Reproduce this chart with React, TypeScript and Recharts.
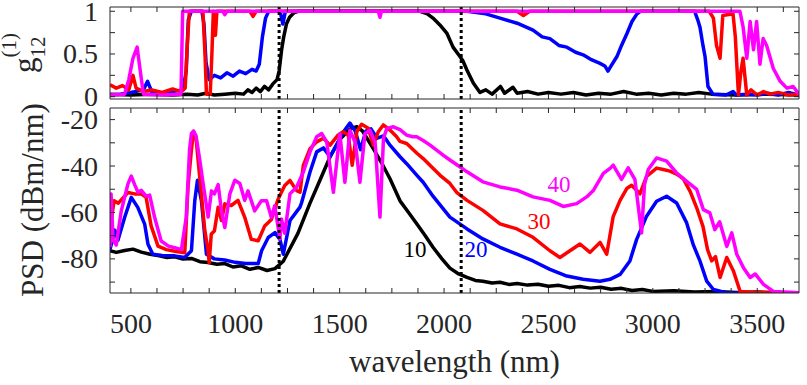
import React from 'react';
import { LineChart, Line, XAxis, YAxis, ReferenceLine, ReferenceDot } from 'recharts';

// wavelength (nm), first-order coherence |g12|
const coherence10: [number, number][] = [
  [400, 0.03], [500, 0.02], [600, 0.03], [700, 0.02], [770, 0.03], [820, 0.02], [860, 0.04], [900, 0.02],
  [950, 0.03], [1000, 0.04], [1040, 0.03], [1060, 0.08], [1080, 0.05], [1100, 0.1], [1120, 0.06],
  [1140, 0.12], [1160, 0.08], [1180, 0.15], [1200, 0.2], [1210, 0.3], [1222, 0.55], [1232, 0.7],
  [1245, 0.85], [1260, 0.93], [1280, 0.98], [1300, 1.0], [1885, 1.0], [1920, 0.97], [1947, 0.92],
  [1980, 0.84], [2014, 0.74], [2043, 0.58], [2076, 0.47], [2090, 0.42], [2110, 0.31], [2140, 0.16],
  [2172, 0.05], [2200, 0.08], [2230, 0.03], [2270, 0.12], [2290, 0.04], [2330, 0.11], [2350, 0.04],
  [2400, 0.06], [2450, 0.03], [2500, 0.05], [2560, 0.03], [2620, 0.05], [2680, 0.02], [2740, 0.04],
  [2800, 0.03], [2860, 0.06], [2920, 0.03], [2980, 0.04], [3040, 0.02], [3100, 0.04], [3160, 0.03],
  [3220, 0.05], [3280, 0.03], [3400, 0.02], [3550, 0.03], [3700, 0.02],
];
const coherence20: [number, number][] = [
  [400, 0.02], [450, 0.03], [500, 0.05], [560, 0.08], [580, 0.18], [600, 0.06], [650, 0.04], [700, 0.06],
  [750, 0.08], [765, 0.3], [775, 0.9], [790, 1.0], [840, 1.0], [850, 0.85], [860, 0.4], [875, 0.2],
  [900, 0.25], [930, 0.22], [960, 0.28], [990, 0.24], [1020, 0.3], [1050, 0.27], [1080, 0.32], [1100, 0.3],
  [1115, 0.38], [1130, 0.7], [1145, 0.92], [1160, 1.0], [1215, 1.0], [1228, 0.85], [1240, 1.0], [2110, 1.0],
  [2200, 0.97], [2268, 0.92], [2350, 0.86], [2426, 0.78], [2470, 0.7], [2507, 0.68], [2550, 0.6],
  [2588, 0.58], [2630, 0.52], [2666, 0.49], [2700, 0.44], [2747, 0.39], [2770, 0.36], [2785, 0.3],
  [2800, 0.36], [2828, 0.47], [2850, 0.6], [2876, 0.74], [2900, 0.88], [2924, 0.97], [2940, 1.0],
  [3200, 1.0], [3215, 0.9], [3226, 0.81], [3240, 0.6], [3250, 0.47], [3264, 0.12], [3288, 0.03],
  [3350, 0.02], [3384, 0.06], [3400, 0.02], [3450, 0.03], [3500, 0.02], [3550, 0.04], [3600, 0.02],
  [3650, 0.05], [3700, 0.02],
];
const coherence30: [number, number][] = [
  [400, 0.14], [430, 0.1], [460, 0.13], [490, 0.08], [510, 0.25], [525, 0.1], [560, 0.06], [600, 0.08],
  [650, 0.05], [700, 0.09], [740, 0.06], [760, 0.1], [770, 0.6], [780, 1.0], [845, 1.0], [855, 0.5],
  [862, 0.03], [880, 0.03], [888, 0.5], [895, 1.0], [905, 0.72], [912, 1.0], [1070, 1.0], [1085, 0.94],
  [1100, 1.0], [2350, 1.0], [2380, 0.95], [2410, 1.0], [3270, 1.0], [3290, 0.92], [3305, 0.6],
  [3322, 0.45], [3335, 0.95], [3384, 0.97], [3395, 0.7], [3410, 0.02], [3422, 0.3], [3432, 0.45],
  [3450, 0.02], [3470, 0.08], [3500, 0.02], [3530, 0.06], [3560, 0.03], [3600, 0.05], [3650, 0.02],
  [3700, 0.03],
];
const coherence40: [number, number][] = [
  [400, 0.02], [470, 0.03], [490, 0.2], [510, 0.45], [530, 0.58], [545, 0.3], [560, 0.03], [650, 0.02],
  [740, 0.03], [748, 1.0], [940, 1.0], [950, 0.96], [960, 1.0], [1685, 1.0], [1693, 0.93], [1700, 1.0],
  [3417, 1.0], [3432, 0.82], [3450, 0.45], [3466, 0.88], [3482, 0.55], [3497, 0.88], [3513, 0.38],
  [3528, 0.68], [3545, 0.6], [3577, 0.33], [3610, 0.18], [3642, 0.1], [3672, 0.12], [3700, 0.03],
];

// wavelength (nm), PSD (dBm/nm)
const psd10: [number, number][] = [
  [400, -76.5], [430, -77.2], [470, -76.4], [510, -75.8], [550, -77.1], [592, -78], [630, -78.6],
  [673, -79.4], [710, -79.1], [750, -80.1], [790, -79.8], [831, -81.2], [870, -81.6], [912, -82.3],
  [950, -82], [989, -83.5], [1029, -83], [1070, -84.5], [1110, -83.7], [1152, -85], [1190, -84.2],
  [1214, -82.3], [1230, -81], [1300, -69], [1358, -56], [1406, -46], [1454, -36], [1501, -28.5],
  [1550, -24], [1582, -23], [1610, -25], [1661, -32.5], [1700, -38.5], [1741, -45.5], [1789, -55],
  [1830, -60], [1870, -65], [1910, -70], [1947, -75], [1990, -80], [2028, -84], [2070, -86.5],
  [2110, -88], [2150, -89.3], [2186, -89.6], [2230, -90.4], [2268, -90.1], [2310, -91], [2350, -90.6],
  [2400, -91.3], [2450, -90.9], [2500, -91.8], [2550, -91.4], [2600, -92.4], [2650, -91.9], [2700, -92.6],
  [2750, -92.2], [2800, -93.1], [2850, -92.7], [2900, -93.6], [2950, -93.2], [3000, -94], [3100, -93.7],
  [3200, -94.3], [3300, -94.1], [3400, -94.5], [3500, -94.3], [3600, -94.6], [3700, -94.6],
];
const psd20: [number, number][] = [
  [400, -76], [423, -67.6], [438, -72], [470, -62.2], [502, -53.5], [533, -57.8], [566, -65], [582, -73.7],
  [605, -78], [650, -78.5], [710, -78.7], [758, -79.4], [790, -76.5], [806, -55], [819, -46.1], [838, -55],
  [862, -78], [900, -80], [949, -80.5], [1000, -81.5], [1050, -82], [1110, -82], [1126, -76.5],
  [1158, -70.8], [1190, -68.7], [1214, -71.6], [1230, -78], [1262, -63.5], [1310, -57.7], [1318, -55.7],
  [1358, -42.6], [1390, -33.9], [1422, -32.2], [1454, -36], [1490, -30], [1520, -25], [1549, -21.5],
  [1575, -25], [1600, -33], [1625, -25], [1650, -24], [1680, -28], [1710, -27], [1741, -31], [1789, -36],
  [1821, -39], [1870, -44], [1900, -47], [1947, -53], [2028, -62], [2110, -67.1], [2186, -71.4],
  [2268, -75], [2349, -78], [2426, -80.9], [2507, -84.5], [2588, -87.4], [2666, -88.8], [2747, -89.6],
  [2795, -88.8], [2843, -86.7], [2890, -80.9], [2922, -71.7], [2970, -61.6], [3018, -55.2], [3066, -53],
  [3114, -55.9], [3162, -64.5], [3194, -74], [3226, -81], [3258, -89.6], [3290, -93.2], [3350, -94.6],
  [3700, -94.8],
];
const psd30: [number, number][] = [
  [400, -66.5], [420, -55], [440, -56], [486, -51.4], [518, -52], [550, -52], [573, -53.5], [597, -65.8],
  [630, -74.5], [670, -76], [710, -76.7], [758, -77.4], [774, -48.4], [790, -33], [800, -25], [812, -28],
  [822, -37.4], [854, -67.7], [870, -76.5], [875, -81.6], [885, -69.3], [900, -68], [918, -57.8],
  [934, -63.5], [950, -56.3], [981, -57], [1013, -54.8], [1045, -62], [1077, -71.6], [1110, -72.2],
  [1141, -65.8], [1173, -63], [1205, -54.3], [1237, -48.4], [1262, -46.2], [1294, -50.6], [1310, -51.3],
  [1326, -39.7], [1358, -32.5], [1390, -29.6], [1422, -28], [1454, -31], [1493, -26.6], [1517, -25.2],
  [1541, -26.6], [1560, -39.7], [1582, -25.2], [1605, -22], [1637, -23.7], [1661, -31], [1685, -25.2],
  [1709, -22.3], [1741, -24.5], [1773, -27.4], [1789, -29.4], [1821, -30.3], [1870, -34.5],
  [1900, -36.8], [1947, -41], [1981, -44], [2028, -47.5], [2060, -51.3], [2110, -54.8], [2186, -59.1],
  [2268, -64.9], [2349, -67.1], [2426, -70.7], [2507, -76.5], [2555, -79.4], [2603, -76.5],
  [2651, -73.6], [2699, -77.2], [2747, -72.9], [2779, -78], [2810, -61.8], [2843, -54.8], [2875, -49.7],
  [2898, -48.3], [2922, -50.4], [2938, -52], [2970, -44.5], [3018, -40.9], [3050, -41.5], [3082, -42.2],
  [3114, -43.5], [3146, -45.5], [3179, -51], [3210, -58], [3240, -66], [3262, -76], [3282, -80.9],
  [3300, -79], [3322, -88], [3354, -79.4], [3386, -85.2], [3418, -94], [3500, -94.5], [3700, -94.6],
];
const psd40: [number, number][] = [
  [400, -75], [405, -52], [415, -72], [430, -74], [454, -59.3], [486, -47.7], [502, -44.3], [518, -48],
  [534, -51.3], [550, -50.5], [573, -53], [590, -52.5], [614, -62.2], [645, -72.3], [680, -74.5],
  [710, -75.2], [742, -76], [765, -62.2], [781, -33], [790, -26], [800, -25], [812, -27], [830, -37.4],
  [846, -47.5], [870, -62], [886, -50.7], [900, -52], [918, -48], [934, -59.3], [950, -66.5], [974, -52],
  [998, -46.1], [1022, -47.5], [1045, -54.8], [1061, -50.7], [1093, -59.3], [1125, -55], [1150, -55],
  [1173, -62.2], [1189, -57.1], [1214, -71.4], [1221, -62.8], [1237, -69], [1262, -52], [1294, -49],
  [1326, -42.6], [1358, -33.9], [1390, -27.4], [1414, -26], [1438, -29.6], [1470, -51.3], [1501, -26.1],
  [1525, -47], [1549, -24.6], [1575, -30], [1597, -47], [1621, -26.1], [1645, -24.6], [1670, -30],
  [1693, -62], [1710, -28], [1726, -23.8], [1757, -23.1], [1789, -24.3], [1821, -26.7], [1850, -27.4],
  [1869, -27.4], [1900, -29], [1933, -31], [1997, -35.4], [2028, -37.4], [2077, -40.4], [2110, -42.5],
  [2186, -46.8], [2268, -49], [2349, -50.4], [2426, -53.3], [2507, -54.8], [2571, -57.4], [2635, -56.2],
  [2683, -53.3], [2716, -50.4], [2763, -43.2], [2795, -41], [2810, -39.6], [2850, -45.8], [2882, -40.8],
  [2914, -45.8], [2946, -68.8], [2960, -48], [2978, -41.5], [3018, -36.5], [3066, -37.9], [3114, -43],
  [3162, -46.6], [3210, -50.1], [3242, -58.8], [3273, -60.2], [3297, -67.4], [3320, -64], [3354, -74.6],
  [3378, -68.8], [3402, -78], [3434, -83.8], [3466, -88], [3490, -86.5], [3530, -91], [3577, -94],
  [3700, -94.6],
];

const seriesColors = ['#000000', '#0000ff', '#ff0000', '#ff00ff'];
const seriesNames = ['10', '20', '30', '40'];
const coherenceSeries = [coherence10, coherence20, coherence30, coherence40];
const psdSeries = [psd10, psd20, psd30, psd40];

// curve annotations in the PSD panel: [wavelength, PSD]
const curveLabelPos: [number, number][] = [[1861, -75.6], [2153, -75.6], [2455, -63.7], [2550, -47.8]];

const dottedMarkers = [1210, 2082];

const xTicks = [500, 625, 750, 875, 1000, 1125, 1250, 1375, 1500, 1625, 1750, 1875, 2000, 2125, 2250,
  2375, 2500, 2625, 2750, 2875, 3000, 3125, 3250, 3375, 3500, 3625];
const coherenceTicks = [0, 0.25, 0.5, 0.75, 1];
const psdTicks = [-90, -80, -70, -60, -50, -40, -30, -20];

const FONT = "'Liberation Serif', 'Times New Roman', serif";
const AXIS = '#262626';

const toPts = (pairs: [number, number][]) => pairs.map(([x, y]) => ({ x, y }));

const makeTick = (side: 'bottom' | 'top' | 'left' | 'right', showLabel: (v: number) => boolean) =>
  (props: any) => {
    const { x, y, payload } = props;
    const v = payload.value;
    let line;
    if (side === 'bottom') line = <line x1={x} x2={x} y1={y} y2={y - 5} stroke={AXIS} />;
    else if (side === 'top') line = <line x1={x} x2={x} y1={y} y2={y + 5} stroke={AXIS} />;
    else if (side === 'left') line = <line x1={x} x2={x + 5} y1={y} y2={y} stroke={AXIS} />;
    else line = <line x1={x} x2={x - 5} y1={y} y2={y} stroke={AXIS} />;
    let label = null;
    if (showLabel(v)) {
      if (side === 'bottom') {
        label = <text x={x} y={y + 40} textAnchor="middle" fontSize={28} fontFamily={FONT} fill={AXIS}>{v}</text>;
      } else if (side === 'left') {
        label = <text x={x - 12} y={y + 9.5} textAnchor="end" fontSize={28} fontFamily={FONT} fill={AXIS}>{v}</text>;
      }
    }
    return <g>{line}{label}</g>;
  };

const never = () => false;

function Panel({ series, yDomain, yTicks, yLabel, xLabel, margin, annotate }: any) {
  return (
    <div style={{ position: 'absolute', left: 0, top: 0 }}>
      <LineChart width={807} height={385} margin={margin}>
        <XAxis xAxisId="b" type="number" dataKey="x" domain={[400, 3700]} allowDataOverflow ticks={xTicks}
          interval={0} height={1} tickSize={0} tickMargin={0} tickLine={false}
          axisLine={{ stroke: AXIS }} tick={makeTick('bottom', xLabel)} />
        <XAxis xAxisId="t" orientation="top" type="number" dataKey="x" domain={[400, 3700]} allowDataOverflow
          ticks={xTicks} interval={0} height={1} tickSize={0} tickMargin={0} tickLine={false}
          axisLine={{ stroke: AXIS }} tick={makeTick('top', never)} />
        <YAxis yAxisId="l" type="number" domain={yDomain} allowDataOverflow ticks={yTicks} interval={0}
          width={110} tickSize={0} tickMargin={0} tickLine={false} axisLine={{ stroke: AXIS }}
          tick={makeTick('left', yLabel)} />
        <YAxis yAxisId="r" orientation="right" type="number" domain={yDomain} allowDataOverflow ticks={yTicks}
          interval={0} width={1} tickSize={0} tickMargin={0} tickLine={false} axisLine={{ stroke: AXIS }}
          tick={makeTick('right', never)} />
        {series.map((s: [number, number][], i: number) => (
          <Line key={seriesNames[i]} xAxisId="b" yAxisId="l" data={toPts(s)} dataKey="y" type="linear"
            stroke={seriesColors[i]} strokeWidth={3.5} dot={false} isAnimationActive={false}
            strokeLinejoin="round" />
        ))}
        {dottedMarkers.map((m) => (
          <ReferenceLine key={m} xAxisId="b" yAxisId="l" x={m} stroke="#000" strokeWidth={3}
            strokeDasharray="3 3" />
        ))}
        {annotate && curveLabelPos.map(([x, y], i) => (
          <ReferenceDot key={i} xAxisId="b" yAxisId="l" x={x} y={y} r={0} fill="none" stroke="none"
            label={{ value: seriesNames[i], position: 'center', fill: seriesColors[i], fontSize: 23, fontFamily: FONT }} />
        ))}
      </LineChart>
    </div>
  );
}

export default function App() {
  return (
    <div style={{ position: 'absolute', left: 0, top: 0, width: 807, height: 385, background: '#fff' }}>
      <Panel series={coherenceSeries} yDomain={[-0.027, 1.05]} yTicks={coherenceTicks}
        yLabel={(v: number) => v === 0 || v === 0.5 || v === 1} xLabel={never}
        margin={{ top: 6, right: 7, bottom: 285, left: 0 }} />
      <Panel series={psdSeries} yDomain={[-94.7, -15]} yTicks={psdTicks}
        yLabel={(v: number) => v % 20 === 0} xLabel={(v: number) => v % 500 === 0}
        margin={{ top: 107, right: 7, bottom: 91, left: 0 }} annotate />
      <svg width={807} height={385} style={{ position: 'absolute', left: 0, top: 0, pointerEvents: 'none' }}>
        <text x={454.5} y={372} textAnchor="middle" fontSize={31} fontFamily={FONT} fill={AXIS}>wavelength (nm)</text>
        <text transform="translate(43,200) rotate(-90)" textAnchor="middle" fontSize={31} fontFamily={FONT} fill={AXIS}>PSD (dBm/nm)</text>
        <g transform="translate(35,53) rotate(-90)" fontFamily={FONT} fill={AXIS}>
          <text x={-20} y={0} fontSize={31}>g</text>
          <text x={-4.5} y={10} fontSize={21}>12</text>
          <text x={-4.5} y={-19} fontSize={21}>(1)</text>
        </g>
      </svg>
    </div>
  );
}
